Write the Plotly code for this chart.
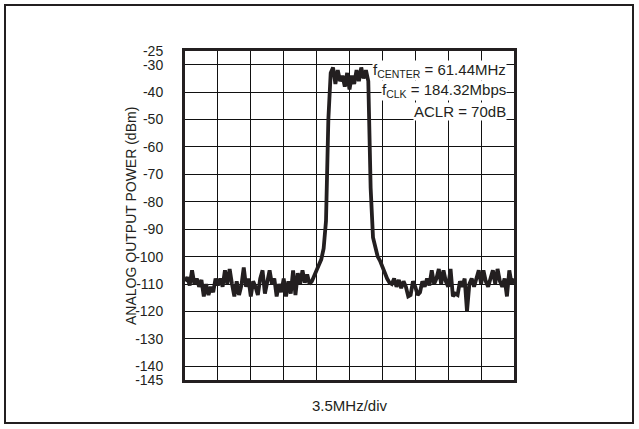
import plotly.graph_objects as go

# Frequency axis: 3.5 MHz/div, 10 divisions centred on 61.44 MHz (0.25 MHz steps)
f_start_mhz = 43.94
f_step_mhz = 0.25

power_dbm = [
    # left noise floor
    -109, -107.5, -110.5, -105, -110, -108, -111, -108.5, -114.5, -110,
    -114, -111, -113, -108, -110.5, -108, -111, -105, -110, -104.5,
    -110, -114.5, -109, -114, -110.5, -104, -111, -108, -114.5, -109,
    -111, -114, -108, -105, -113.5, -108.5, -105, -110, -108, -114.5,
    -110, -113, -108, -114.5, -109, -113.5, -105, -114, -106, -110,
    -105, -109.5, -106.5, -110,
    # rising skirt
    -109, -107, -104.5, -103, -101, -97, -87, -50,
    # passband
    -33, -31, -37, -32, -36, -34, -38, -33, -39, -34,
    -37, -32, -36, -31, -35, -32, -36,
    # falling skirt
    -75, -93, -97, -100, -101.5, -104, -106, -108, -109.5,
    # right noise floor
    -110, -108, -111, -108.5, -111.5, -109, -111, -114.5, -114, -109,
    -111, -114, -113, -109, -111, -108, -110.5, -105, -110, -108,
    -104.5, -110, -105, -109, -111, -104.5, -114.5, -113.5, -114, -109,
    -111, -108, -120, -110, -108, -111, -108.5, -105, -110, -105,
    -109, -111, -108, -105, -110, -104.5, -109, -111, -108, -114.5,
    -105, -110, -108,
]
freq_mhz = [f_start_mhz + i * f_step_mhz for i in range(len(power_dbm))]

y_ticks = [-25, -30, -40, -50, -60, -70, -80, -90, -100, -110, -120, -130, -140, -145]
x_grid = [f_start_mhz + 3.5 * k for k in range(11)]

FONT = "Liberation Sans, Arial, sans-serif"
INK = "#231f20"

fig = go.Figure()
fig.add_trace(go.Scatter(
    x=freq_mhz, y=power_dbm, mode="lines",
    line=dict(color=INK, width=3.8), showlegend=False, hoverinfo="skip",
))

L, R, T, B = 185, 125, 51, 49
W, H = 639, 429
pw, ph = W - L - R, H - T - B

fig.update_layout(
    width=W, height=H,
    margin=dict(l=L, r=R, t=T, b=B, autoexpand=False),
    paper_bgcolor="white", plot_bgcolor="white",
    font=dict(family=FONT, size=15, color=INK),
    xaxis=dict(
        range=[x_grid[0], x_grid[-1]], tickvals=x_grid, showticklabels=False,
        showgrid=True, gridcolor="#111", gridwidth=1.3, zeroline=False,
        showline=True, mirror=True, linecolor=INK, linewidth=3,
        ticks="", automargin=False,
    ),
    yaxis=dict(
        range=[-145, -25], tickvals=y_ticks, ticktext=[str(v) for v in y_ticks],
        showgrid=True, gridcolor="#111", gridwidth=1.3, zeroline=False,
        showline=True, mirror=True, linecolor=INK, linewidth=3,
        ticks="", ticklabelstandoff=16, tickfont=dict(size=14), automargin=False,
    ),
)

# axis titles placed as annotations for exact positions
fig.add_annotation(
    text="ANALOG OUTPUT POWER (dBm)", xref="paper", yref="paper",
    x=(131 - L) / pw, y=(H - B - 216) / ph, textangle=-90,
    xanchor="center", yanchor="middle", showarrow=False,
    font=dict(size=14, family=FONT, color=INK),
)
fig.add_annotation(
    text="3.5MHz/div", xref="paper", yref="paper",
    x=(350 - L) / pw, y=(H - B - 405) / ph,
    xanchor="center", yanchor="middle", showarrow=False,
    font=dict(size=15, family=FONT, color=INK),
)

ann_lines = [
    ("f<sub>CENTER</sub> = 61.44MHz", 70),
    ("f<sub>CLK</sub> = 184.32Mbps", 90),
    ("ACLR = 70dB", 111),
]
for txt, ypx in ann_lines:
    fig.add_annotation(
        text=txt, xref="paper", yref="paper",
        x=(507 - L) / pw, y=(H - B - ypx) / ph,
        xanchor="right", yanchor="middle", showarrow=False,
        bgcolor="white", borderpad=0, font=dict(size=15, family=FONT, color=INK),
    )

# outer frame around the whole figure
fig.add_shape(
    type="rect", xref="paper", yref="paper",
    x0=(5 - L) / pw, x1=(633 - L) / pw,
    y0=(H - B - 423) / ph, y1=(H - B - 5) / ph,
    line=dict(color=INK, width=2), layer="below",
)

fig.write_html(
    "out.html",
    config={"displayModeBar": False},
    post_script="document.body.style.margin='0';document.body.style.overflow='hidden';",
)
